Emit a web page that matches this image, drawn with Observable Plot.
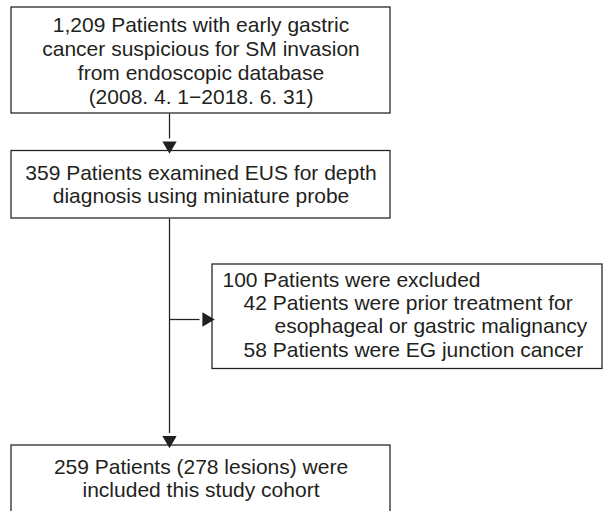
<!DOCTYPE html>
<html><head><meta charset="utf-8">
<script src="https://cdn.jsdelivr.net/npm/d3@7"></script>
<script src="https://cdn.jsdelivr.net/npm/@observablehq/plot@0.6"></script>
<style>body{margin:0;background:#fff;} #chart svg{display:block;}</style>
</head><body><div id="chart"></div>
<script>
// ---- Flowchart content ----
const screeningText = ["1,209 Patients with early gastric", "cancer suspicious for SM invasion", "from endoscopic database", "(2008. 4. 1\u22122018. 6. 31)"];
const eusText = ["359 Patients examined EUS for depth", "diagnosis using miniature probe"];
const excludedText = ["100 Patients were excluded", "42 Patients were prior treatment for", "esophageal or gastric malignancy", "58 Patients were EG junction cancer"];
const excludedIndent = [0, 1, 2, 1];
const cohortText = ["259 Patients (278 lesions) were", "included this study cohort"];

// ---- Layout (pixel space) ----
const W = 604, H = 511;
const ink = "#231f20";
const fs = 21;
const layout = [
  {lines: screeningText, x1: 11, x2: 390, y1: 7, y2: 113, y0: 25, step: 24, anchor: "middle"},
  {lines: eusText, x1: 11, x2: 390, y1: 150.5, y2: 218, y0: 172.5, step: 23.5, anchor: "middle"},
  {lines: excludedText, indent: excludedIndent, x1: 212, x2: 602, y1: 264, y2: 368.5, y0: 279.5, step: 23.3, anchor: "start", tx: 222, indentStep: [0, 21, 52]},
  {lines: cohortText, x1: 11, x2: 390, y1: 445, y2: 514, y0: 467, step: 22.5, anchor: "middle"}
];
const rows = layout.flatMap(b => b.lines.map((t, i) => ({
  text: t,
  x: b.anchor === "middle" ? (b.x1 + b.x2) / 2 : b.tx + b.indentStep[b.indent[i]],
  y: b.y0 + i * b.step,
  anchor: b.anchor
})));
const spineX = 169;
const connectors = [
  {x1: spineX, y1: layout[0].y2, x2: spineX, y2: layout[1].y1 - 1.5, dir: "down"},
  {x1: spineX, y1: layout[1].y2, x2: spineX, y2: layout[3].y1 - 1.5, dir: "down"},
  {x1: spineX, y1: 319, x2: layout[2].x1 - 2, y2: 319, dir: "right"}
];
const headLen = 12;
const heads = connectors.map(c => ({
  x: c.dir === "right" ? c.x2 - headLen / 3 : c.x2,
  y: c.dir === "down" ? c.y2 - headLen / 3 : c.y2,
  rotate: c.dir === "down" ? 180 : 90
}));
const shafts = connectors.map(c => ({...c, x2: c.dir === "right" ? c.x2 - headLen + 1 : c.x2, y2: c.dir === "down" ? c.y2 - headLen + 1 : c.y2}));

const chart = Plot.plot({
  width: W, height: H,
  margin: 0,
  x: {domain: [0, W], range: [0, W], axis: null},
  y: {domain: [0, H], range: [0, H], axis: null},
  style: {fontFamily: "'Liberation Sans', Arial, sans-serif", background: "#fff"},
  marks: [
    Plot.rect(layout, {x1: "x1", x2: "x2", y1: "y1", y2: "y2", fill: "white", stroke: ink, strokeWidth: 1.25}),
    Plot.link(shafts, {x1: "x1", y1: "y1", x2: "x2", y2: "y2", stroke: ink, strokeWidth: 1.25}),
    Plot.dot(heads, {x: "x", y: "y", symbol: "triangle", r: 5.3, rotate: "rotate", fill: ink, stroke: null}),
    Plot.text(rows.filter(d => d.anchor === "middle"), {x: "x", y: "y", text: "text", textAnchor: "middle", fontSize: fs, fill: ink}),
    Plot.text(rows.filter(d => d.anchor === "start"), {x: "x", y: "y", text: "text", textAnchor: "start", fontSize: fs, fill: ink})
  ]
});
document.getElementById("chart").append(chart);
</script>
</body></html>
